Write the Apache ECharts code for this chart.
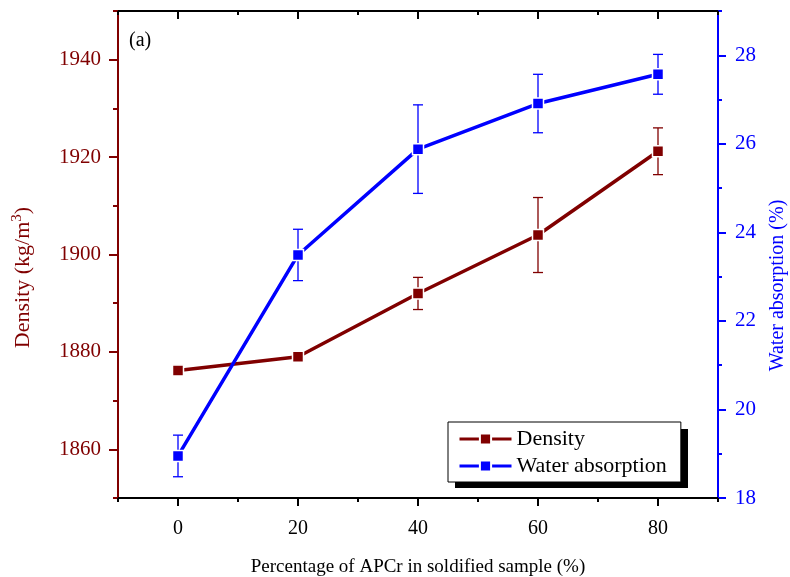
<!DOCTYPE html>
<html>
<head>
<meta charset="utf-8">
<script src="https://cdn.jsdelivr.net/npm/echarts@6/dist/echarts.min.js"></script>
<style>
  html, body { margin: 0; padding: 0; background: #fff; }
  #chart { width: 790px; height: 577px; }
</style>
</head>
<body>
<div id="chart"></div>
<script>
// data
const xValues = [0, 20, 40, 60, 80];
const density = [1876.2, 1879.0, 1892.0, 1904.0, 1921.2];
const densityErr = [0, 0, 3.3, 7.7, 4.8];
const water = [18.95, 23.49, 25.88, 26.91, 27.57];
const waterErr = [0.47, 0.58, 1.0, 0.66, 0.45];

// tick positions
const xMajor = [0, 20, 40, 60, 80];
const xMinor = [-10, 10, 30, 50, 70, 90];
const densityMajor = [1860, 1880, 1900, 1920, 1940];
const densityMinor = [1850, 1870, 1890, 1910, 1930, 1950];
const waterMajor = [18, 20, 22, 24, 26, 28];
const waterMinor = [19, 21, 23, 25, 27, 29];

const FONT = 'Liberation Serif';
const RED = '#800000';
const BLUE = '#0000ff';

const chart = echarts.init(document.getElementById('chart'));

// 误差棒
function errorBars(values, errs, color, yIndex) {
  return {
    type: 'custom',
    yAxisIndex: yIndex,
    z: 2,
    silent: true,
    data: xValues.map((x, i) => [x, values[i], errs[i]]),
    renderItem: (params, api) => {
      const e = api.value(2);
      if (!e) return null;
      const x = api.value(0), v = api.value(1);
      const top = api.coord([x, v + e]);
      const bot = api.coord([x, v - e]);
      const w = 5;
      const style = { stroke: color, lineWidth: 1.3 };
      return {
        type: 'group',
        children: [
          { type: 'line', shape: { x1: top[0], y1: top[1], x2: bot[0], y2: bot[1] }, style },
          { type: 'line', shape: { x1: top[0] - w, y1: top[1], x2: top[0] + w, y2: top[1] }, style },
          { type: 'line', shape: { x1: bot[0] - w, y1: bot[1], x2: bot[0] + w, y2: bot[1] }, style }
        ]
      };
    }
  };
}

function baseAxis(extra) {
  return Object.assign({
    type: 'value',
    splitLine: { show: false },
    axisLine: { show: false, onZero: false },
    axisLabel: { show: false },
    axisTick: { show: false }
  }, extra);
}

const plain = v => String(v);

chart.setOption({
  animation: false,
  grid: { left: 118, right: 72, top: 11, bottom: 79, containLabel: false, outerBoundsMode: 'none' },
  graphic: [
    {
      type: 'text', left: 129, top: 31,
      style: { text: '(a)', font: '20px ' + FONT, fill: '#000' }
    },
    // legend drop shadow
    {
      type: 'rect', left: 455, top: 429, z: 1,
      shape: { width: 233, height: 59 },
      style: { fill: '#000' }
    }
  ],
  legend: {
    orient: 'vertical',
    left: 448, top: 422, z: 5,
    backgroundColor: '#fff',
    borderColor: '#000', borderWidth: 1,
    padding: [6, 14, 5, 10],
    itemWidth: 52, itemHeight: 14, itemGap: 5,
    lineStyle: { width: 3 },
    textStyle: { fontFamily: FONT, fontSize: 22, color: '#000' },
    data: ['Density', 'Water absorption']
  },
  xAxis: [
    baseAxis({
      min: -10, max: 90, position: 'bottom',
      axisLine: { show: true, onZero: false, lineStyle: { color: '#000', width: 2 } },
      axisTick: { show: true, customValues: xMajor, length: 8, lineStyle: { color: '#000', width: 2 } },
      axisLabel: { show: true, customValues: xMajor, margin: 21, fontFamily: FONT, fontSize: 20, color: '#000', formatter: plain },
      name: 'Percentage of APCr in soldified sample (%)',
      nameLocation: 'middle', nameGap: 60,
      nameTextStyle: { fontFamily: FONT, fontSize: 19, color: '#000' }
    }),
    baseAxis({
      min: -10, max: 90, position: 'bottom',
      axisTick: { show: true, customValues: xMinor, length: 4, lineStyle: { color: '#000', width: 2 } }
    }),
    baseAxis({
      min: -10, max: 90, position: 'top',
      axisLine: { show: true, onZero: false, lineStyle: { color: '#000', width: 2 } },
      axisTick: { show: true, inside: true, customValues: xMajor, length: 8, lineStyle: { color: '#000', width: 2 } }
    }),
    baseAxis({
      min: -10, max: 90, position: 'top',
      axisTick: { show: true, inside: true, customValues: xMinor, length: 4, lineStyle: { color: '#000', width: 2 } }
    })
  ],
  yAxis: [
    baseAxis({
      min: 1850, max: 1950, position: 'left',
      axisLine: { show: true, onZero: false, lineStyle: { color: RED, width: 2 } },
      axisTick: { show: true, customValues: densityMajor, length: 9, lineStyle: { color: RED, width: 2 } },
      axisLabel: { show: true, customValues: densityMajor, margin: 17, fontFamily: FONT, fontSize: 21, color: RED, formatter: plain },
      name: '{a|Density (kg/m}{s|3}{a|)}',
      nameLocation: 'middle', nameGap: 82, nameRotate: 90,
      nameTextStyle: {
        color: RED, padding: [0, 0, 0, -46],
        rich: {
          a: { fontFamily: FONT, fontSize: 22, color: RED },
          s: { fontFamily: FONT, fontSize: 15, color: RED, padding: [0, 0, 11, 0] }
        }
      }
    }),
    baseAxis({
      min: 18, max: 29, position: 'right',
      axisLine: { show: true, onZero: false, lineStyle: { color: BLUE, width: 2 } },
      axisTick: { show: true, customValues: waterMajor, length: 8, lineStyle: { color: BLUE, width: 2 } },
      axisLabel: { show: true, customValues: waterMajor, margin: 17, fontFamily: FONT, fontSize: 21, color: BLUE, formatter: plain },
      name: 'Water absorption (%)',
      nameLocation: 'middle', nameGap: 50, nameRotate: 90,
      nameTextStyle: { fontFamily: FONT, fontSize: 20, color: BLUE, padding: [0, 0, 0, -62] }
    }),
    baseAxis({
      min: 1850, max: 1950, position: 'left',
      axisTick: { show: true, customValues: densityMinor, length: 5, lineStyle: { color: RED, width: 2 } }
    }),
    baseAxis({
      min: 18, max: 29, position: 'right',
      axisTick: { show: true, customValues: waterMinor, length: 4, lineStyle: { color: BLUE, width: 2 } }
    })
  ],
  series: [
    errorBars(density, densityErr, RED, 0),
    errorBars(water, waterErr, BLUE, 1),
    {
      name: 'Density', type: 'line', yAxisIndex: 0, z: 3,
      data: xValues.map((x, i) => [x, density[i]]),
      symbol: 'rect', symbolSize: 11,
      lineStyle: { color: RED, width: 3.5 },
      itemStyle: { color: RED, borderColor: '#fff', borderWidth: 1.5 }
    },
    {
      name: 'Water absorption', type: 'line', yAxisIndex: 1, z: 3,
      data: xValues.map((x, i) => [x, water[i]]),
      symbol: 'rect', symbolSize: 11,
      lineStyle: { color: BLUE, width: 3.5 },
      itemStyle: { color: BLUE, borderColor: '#fff', borderWidth: 1.5 }
    }
  ]
});
</script>
</body>
</html>
